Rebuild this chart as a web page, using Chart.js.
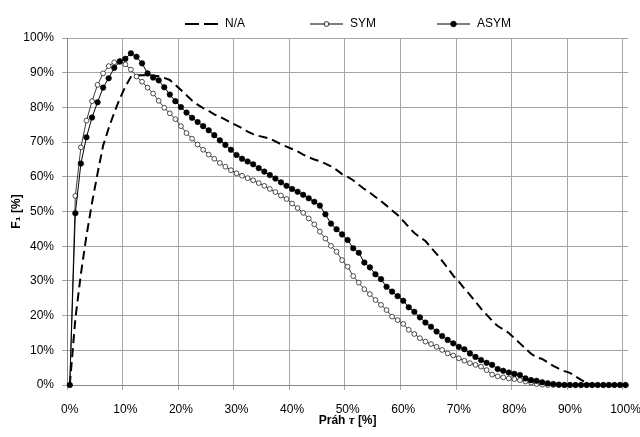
<!DOCTYPE html>
<html>
<head>
<meta charset="utf-8">
<script src="https://cdn.jsdelivr.net/npm/chart.js@4.4.1/dist/chart.umd.min.js"></script>
<style>
  html, body { margin: 0; padding: 0; background: #fff; }
  canvas { display: block; }
</style>
</head>
<body>
<canvas id="f1Chart" width="640" height="437"></canvas>
<script>
// threshold categories (0..100 %)
var thresholds = [];
for (var i = 0; i <= 100; i++) thresholds.push(i);

var xTickLabels = ['0%', '10%', '20%', '30%', '40%', '50%', '60%', '70%', '80%', '90%', '100%'];

var naValues = [0, 19, 32, 43, 52.5, 61, 69, 74, 78.5, 82.5,
  86, 88.8, 89.3, 89.3, 89.3, 89.2, 89, 88.5, 87.9, 86.5,
  85, 83.5, 82, 80.8, 79.8, 79, 78, 77.3, 76.5, 75.6,
  74.8, 74, 73, 72.3, 71.8, 71.4, 71, 70.2, 69.4, 68.7,
  68, 67.3, 66.4, 65.6, 65, 64.5, 63.8, 63, 62, 60.8,
  60, 59, 57.7, 56.5, 55.4, 54.2, 53, 51.7, 50.3, 49,
  47.3, 45.5, 43.8, 42.6, 41.5, 39.6, 37.8, 35.8, 33.7, 31.5,
  29.8, 27.8, 26, 24, 22, 20.3, 18.5, 17, 16, 15,
  13.5, 12, 10.5, 9, 8, 7.5, 6.5, 5.5, 4.7, 4,
  3.5, 2.5, 1.5, 0.6, 0, 0, 0, 0, 0, 0, 0];

var symValues = [0, 54.5, 68.5, 76.2, 81.8, 86.5, 89.8, 91.9, 93.0, 93.4,
  92.4, 90.9, 88.9, 87.4, 85.7, 84.0, 81.9, 79.9, 78.3, 76.6,
  74.6, 72.6, 71.0, 69.3, 67.8, 66.4, 65.2, 64.0, 62.9, 61.9,
  61.0, 60.3, 59.6, 59.0, 58.2, 57.4, 56.5, 55.6, 54.6, 53.6,
  52.3, 51.0, 49.6, 48.0, 46.3, 44.2, 42.2, 40.1, 38.4, 36.0,
  34.1, 31.4, 29.5, 27.6, 26.2, 24.5, 23.1, 21.6, 19.7, 18.7,
  17.6, 15.9, 14.7, 13.5, 12.5, 11.8, 11.0, 10.1, 9.1, 8.5,
  7.7, 7.0, 6.3, 5.8, 5.3, 4.3, 3.0, 2.5, 2.2, 1.9,
  1.7, 1.4, 1.0, 0.7, 0.3, 0.1, 0, 0, 0, 0,
  0, 0, 0, 0, 0, 0, 0, 0, 0, 0, 0];

var asymValues = [0, 49.5, 63.8, 71.4, 77.1, 81.5, 85.7, 88.4, 91.4, 93.2,
  94.0, 95.6, 94.6, 92.7, 89.8, 88.6, 87.8, 85.8, 83.7, 81.8,
  80.1, 78.5, 77.0, 75.8, 74.6, 73.4, 72.0, 70.5, 69.2, 67.8,
  66.3, 65.2, 64.4, 63.6, 62.5, 61.5, 60.5, 59.5, 58.4, 57.4,
  56.5, 55.7, 54.8, 53.8, 52.8, 51.7, 49.2, 46.5, 44.9, 43.4,
  41.8, 39.4, 38.1, 35.3, 33.9, 31.9, 30.5, 28.3, 26.9, 25.6,
  24.3, 22.4, 21.1, 19.5, 18.0, 16.8, 15.4, 14.1, 13.0, 12.0,
  11.0, 10.3, 9.1, 8.1, 7.2, 6.4, 5.8, 4.6, 4.1, 3.6,
  3.2, 2.9, 1.9, 1.4, 1.2, 0.8, 0.5, 0.3, 0.1, 0,
  0, 0, 0, 0, 0, 0, 0, 0, 0, 0, 0];

var gridColor = '#a5a5a5';
var axisColor = '#868686';
var tickFont = { family: 'Liberation Sans', size: 12 };

function gridAt10(c) {
  if (c.index === undefined) return 'transparent';
  return c.index % 10 === 0 ? gridColor : 'transparent';
}

// legend drawn like Excel: line sample with marker, then text
var legendItems = [
  { text: 'N/A', x: 185, dash: [14, 5], width: 2, marker: null },
  { text: 'SYM', x: 310, dash: [], width: 1, marker: 'open' },
  { text: 'ASYM', x: 437, dash: [], width: 1, marker: 'filled' }
];

var excelLegend = {
  id: 'excelLegend',
  afterDraw: function(chart) {
    var ctx = chart.ctx;
    var y = 24;
    ctx.save();
    legendItems.forEach(function(it) {
      ctx.strokeStyle = '#000';
      ctx.lineWidth = it.width;
      ctx.setLineDash(it.dash);
      ctx.beginPath();
      ctx.moveTo(it.x, y);
      ctx.lineTo(it.x + 33, y);
      ctx.stroke();
      ctx.setLineDash([]);
      if (it.marker) {
        ctx.beginPath();
        ctx.arc(it.x + 16.5, y, it.marker === 'open' ? 2.4 : 2.8, 0, Math.PI * 2);
        ctx.fillStyle = it.marker === 'open' ? '#fff' : '#000';
        ctx.fill();
        ctx.lineWidth = 0.8;
        ctx.stroke();
      }
      ctx.fillStyle = '#000';
      ctx.font = '12px "Liberation Sans"';
      ctx.textBaseline = 'middle';
      ctx.textAlign = 'left';
      ctx.fillText(it.text, it.x + 40, y);
    });
    ctx.restore();
  }
};

// x axis title with italic tau
var xTitle = {
  id: 'xTitle',
  afterDraw: function(chart) {
    var ctx = chart.ctx;
    var area = chart.chartArea;
    var parts = [
      { t: 'Práh ', f: 'bold 12px "Liberation Sans"' },
      { t: 'τ', f: 'italic bold 13px "Liberation Serif"' },
      { t: ' [%]', f: 'bold 12px "Liberation Sans"' }
    ];
    ctx.save();
    var total = 0;
    parts.forEach(function(p) { ctx.font = p.f; p.w = ctx.measureText(p.t).width; total += p.w; });
    var x = (area.left + area.right) / 2 - total / 2;
    ctx.fillStyle = '#000';
    ctx.textBaseline = 'middle';
    ctx.textAlign = 'left';
    parts.forEach(function(p) { ctx.font = p.f; ctx.fillText(p.t, x, 421); x += p.w; });
    ctx.restore();
  }
};

var ctx = document.getElementById('f1Chart').getContext('2d');
new Chart(ctx, {
  type: 'line',
  data: {
    labels: thresholds,
    datasets: [{
        label: 'N/A',
        data: naValues,
        borderColor: '#000',
        borderWidth: 2,
        borderDash: [9, 5],
        pointRadius: 0,
        fill: false,
        order: 3,
        clip: false
      },
      {
        label: 'SYM',
        data: symValues,
        borderColor: '#3a3a3a',
        borderWidth: 1,
        pointRadius: 2.4,
        pointBorderWidth: 0.8,
        pointBorderColor: '#222',
        pointBackgroundColor: '#fff',
        fill: false,
        order: 2,
        clip: false
      },
      {
        label: 'ASYM',
        data: asymValues,
        borderColor: '#000',
        borderWidth: 1,
        pointRadius: 2.8,
        pointBorderWidth: 0.5,
        pointBorderColor: '#000',
        pointBackgroundColor: '#000',
        fill: false,
        order: 1,
        clip: false
      }
    ]
  },
  options: {
    responsive: false,
    animation: false,
    events: [],
    layout: { padding: { top: 38, right: 0, left: 0, bottom: 0 } },
    plugins: {
      legend: { display: false },
      tooltip: { enabled: false }
    },
    scales: {
      x: {
        type: 'category',
        offset: true,
        afterFit: function(s) {
          s.height = 52;
          s.paddingLeft = 0;
          s.paddingRight = 11.7;
        },
        grid: { offset: true, color: gridAt10, lineWidth: 1, tickLength: 5, drawTicks: true },
        border: { color: axisColor, width: 1 },
        ticks: {
          autoSkip: false,
          maxRotation: 0,
          padding: 12,
          color: '#000',
          font: tickFont,
          callback: function(v, i) { return i % 10 === 0 ? xTickLabels[i / 10] : ''; }
        }
      },
      y: {
        min: 0,
        max: 100,
        afterFit: function(s) { s.width = 67; },
        grid: { color: gridColor, lineWidth: 1, tickLength: 5, drawTicks: true },
        border: { color: axisColor, width: 1 },
        ticks: {
          stepSize: 10,
          padding: 8,
          color: '#000',
          font: tickFont,
          callback: function(v) { return v + '%'; }
        },
        title: {
          display: true,
          text: 'F₁ [%]',
          color: '#000',
          font: { family: 'Liberation Sans', size: 12, weight: 'bold' },
          padding: { top: 9, bottom: 0 }
        }
      }
    }
  },
  plugins: [excelLegend, xTitle]
});
</script>
</body>
</html>
